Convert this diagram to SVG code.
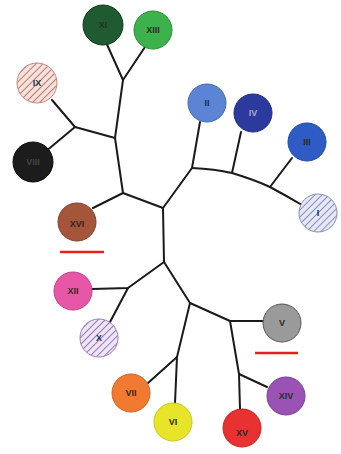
<svg xmlns="http://www.w3.org/2000/svg" width="341" height="454" viewBox="0 0 341 454">
<defs>
<style>
.e{fill:none;stroke:#1a1a1a;stroke-width:2;stroke-linecap:round;stroke-linejoin:round}
.n{stroke-width:1}
.t{font-family:"Liberation Sans",Arial,sans-serif;font-size:9px;font-weight:bold;fill:#2a2a2a;text-anchor:middle;dominant-baseline:central}
.r{stroke:#e8201a;stroke-width:2.5}
</style>
<pattern id="hIX" patternUnits="userSpaceOnUse" width="5" height="5" patternTransform="rotate(45)"><rect width="5" height="5" fill="#f6e2dc"/><line x1="0" y1="0" x2="0" y2="5" stroke="#c07a6c" stroke-width="2"/></pattern>
<pattern id="hI" patternUnits="userSpaceOnUse" width="5" height="5" patternTransform="rotate(45)"><rect width="5" height="5" fill="#e6e8f4"/><line x1="0" y1="0" x2="0" y2="5" stroke="#8a90c8" stroke-width="2"/></pattern>
<pattern id="hX" patternUnits="userSpaceOnUse" width="5" height="5" patternTransform="rotate(45)"><rect width="5" height="5" fill="#eee6f4"/><line x1="0" y1="0" x2="0" y2="5" stroke="#9a78c0" stroke-width="2"/></pattern>
</defs>
<rect width="341" height="454" fill="#ffffff"/>
<g id="connectors">
<path class="e" d="M105,40 L123,80 L145,47"/>
<path class="e" d="M123,80 L115,138 L123,193 L163,208"/>
<path class="e" d="M52,100 L75,127 L115,138"/>
<path class="e" d="M75,127 L45,152"/>
<path class="e" d="M123,193 L93,208"/>
<path class="e" d="M163,208 L192,168 L200,122"/>
<path class="e" d="M192,168 Q215,169 232,173 Q255,180 270,187 Q285,195 302,205"/>
<path class="e" d="M232,173 L241,132"/>
<path class="e" d="M270,187 L292,158"/>
<path class="e" d="M163,208 L164,262 L128,288 L92,289"/>
<path class="e" d="M128,288 L110,322"/>
<path class="e" d="M164,262 L190,303 L177,357 L175,403"/>
<path class="e" d="M177,357 L148,383"/>
<path class="e" d="M190,303 L230,321 L263,321"/>
<path class="e" d="M230,321 L239,374 L267,387"/>
<path class="e" d="M239,374 L240,409"/>
</g>
<g id="XI"><circle class="n" cx="103" cy="25" r="20" fill="#1f5a30" stroke="#123a1c"/><text class="t" x="103" y="25">XI</text></g>
<g id="XIII"><circle class="n" cx="153" cy="30" r="19" fill="#3db24c" stroke="#2a8a38"/><text class="t" x="153" y="30">XIII</text></g>
<g id="IX"><circle class="n" cx="37" cy="83" r="20" fill="url(#hIX)" stroke="#c08a80"/><text class="t" x="37" y="83">IX</text></g>
<g id="VIII"><circle class="n" cx="33" cy="162" r="20" fill="#1c1c1c" stroke="#0a0a0a"/><text class="t" x="33" y="162" style="fill:#444">VIII</text></g>
<g id="XVI"><circle class="n" cx="77" cy="222" r="19" fill="#a4553a" stroke="#803e28"/><text class="t" x="77" y="224">XVI</text></g>
<g id="II"><circle class="n" cx="207" cy="103" r="19" fill="#5b84d4" stroke="#4068b0"/><text class="t" x="207" y="103">II</text></g>
<g id="IV"><circle class="n" cx="253" cy="113" r="19" fill="#2c3a9e" stroke="#1e2a7a"/><text class="t" x="253" y="113" style="fill:#aab">IV</text></g>
<g id="III"><circle class="n" cx="307" cy="142" r="19" fill="#2e5cc4" stroke="#1e46a0"/><text class="t" x="307" y="142">III</text></g>
<g id="I"><circle class="n" cx="318" cy="213" r="19" fill="url(#hI)" stroke="#8890b0"/><text class="t" x="318" y="213">I</text></g>
<g id="XII"><circle class="n" cx="73" cy="291" r="19" fill="#e856a8" stroke="#c23c88"/><text class="t" x="73" y="291">XII</text></g>
<g id="X"><circle class="n" cx="99" cy="338" r="19" fill="url(#hX)" stroke="#9a80b8"/><text class="t" x="99" y="338">X</text></g>
<g id="VII"><circle class="n" cx="131" cy="393" r="19" fill="#f27a30" stroke="#d06020"/><text class="t" x="131" y="393">VII</text></g>
<g id="VI"><circle class="n" cx="173" cy="422" r="19" fill="#e8e42a" stroke="#c8c420"/><text class="t" x="173" y="422">VI</text></g>
<g id="XV"><circle class="n" cx="242" cy="428" r="19" fill="#e83232" stroke="#c02020"/><text class="t" x="242" y="433">XV</text></g>
<g id="XIV"><circle class="n" cx="286" cy="396" r="19" fill="#9a52b4" stroke="#7a3a94"/><text class="t" x="286" y="396">XIV</text></g>
<g id="V"><circle class="n" cx="282" cy="323" r="19" fill="#9a9a9a" stroke="#555"/><text class="t" x="282" y="323">V</text></g>
<g id="marks">
<line class="r" x1="60" y1="252" x2="104" y2="252"/>
<line class="r" x1="255" y1="353" x2="298" y2="353"/>
</g>
</svg>
